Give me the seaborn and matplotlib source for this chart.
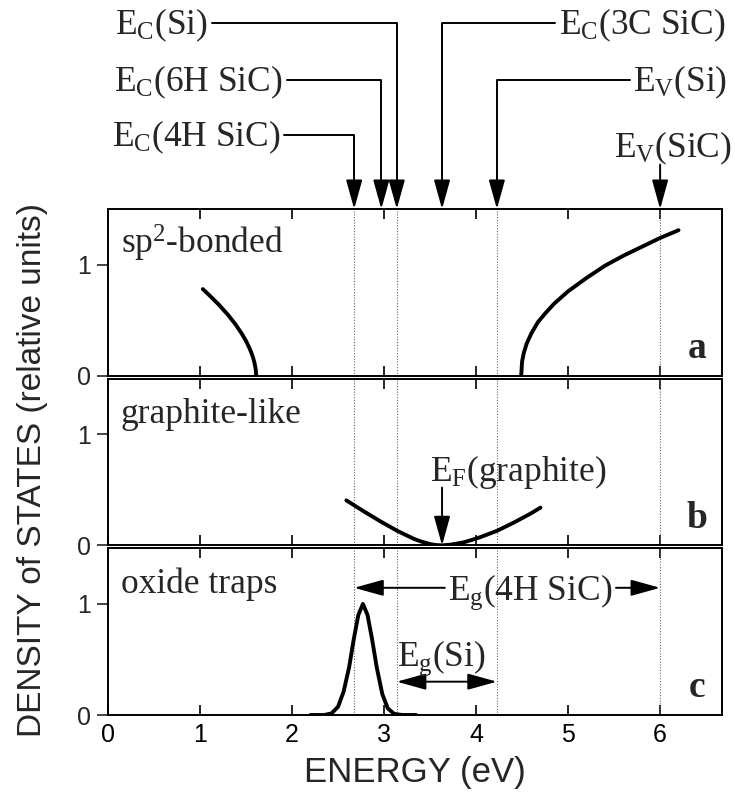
import matplotlib
matplotlib.use('Agg')
import matplotlib.pyplot as plt
import matplotlib.transforms as mtransforms
import seaborn as sns

# ---------------- data ----------------
# panel a : sp2-bonded density of states
sp2_left_x = [1.03, 1.10, 1.20, 1.30, 1.38, 1.45, 1.50, 1.54, 1.57, 1.59, 1.605, 1.61]
sp2_left_y = [0.78, 0.725, 0.643, 0.551, 0.468, 0.383, 0.312, 0.243, 0.179, 0.122, 0.057, 0.0]
sp2_right_x = [4.49, 4.50, 4.52, 4.55, 4.60, 4.67, 4.75, 4.85, 5.00, 5.20, 5.40, 5.60, 5.80, 6.00, 6.20]
sp2_right_y = [0.0, 0.13, 0.21, 0.29, 0.38, 0.48, 0.56, 0.65, 0.76, 0.88, 0.99, 1.08, 1.16, 1.24, 1.31]
# panel b : graphite-like
graph_x = [2.59, 2.78, 2.96, 3.14, 3.32, 3.40, 3.50, 3.56, 3.63, 3.72, 3.865, 3.95, 4.05, 4.23, 4.41, 4.59, 4.70]
graph_y = [0.405, 0.306, 0.216, 0.132, 0.060, 0.035, 0.012, 0.003, 0.0, 0.006, 0.027, 0.048, 0.075, 0.132, 0.205, 0.285, 0.34]
# panel c : oxide traps
trap_x = [2.20, 2.35, 2.43, 2.50, 2.56, 2.62, 2.67, 2.72, 2.77, 2.82, 2.87, 2.92, 2.98, 3.04, 3.11, 3.20, 3.35]
trap_y = [0.0, 0.0, 0.015, 0.075, 0.21, 0.43, 0.68, 0.90, 1.0, 0.90, 0.68, 0.43, 0.19, 0.06, 0.01, 0.0, 0.0]

# band edge energies (eV)
E_C_4H = 2.675
E_C_6H = 2.97
E_C_Si = 3.138
E_C_3C = 3.63
E_V_Si = 4.226
E_V_SiC = 6.0
E_F_graphite = 3.63
guide_levels = [E_C_4H, E_C_Si, E_V_Si, E_V_SiC]

x_ticks = [0, 1, 2, 3, 4, 5, 6]
y_ticks = [0, 1]
panel_names = ['sp$^2$-bonded', 'graphite-like', 'oxide traps']
panel_letters = ['a', 'b', 'c']

# ---------------- style ----------------
sns.set_theme(style='ticks')
plt.rcParams['font.family'] = ['Liberation Sans', 'DejaVu Sans']
plt.rcParams['mathtext.fontset'] = 'custom'
plt.rcParams['mathtext.rm'] = 'Liberation Serif'
plt.rcParams['mathtext.it'] = 'Liberation Serif:italic'
plt.rcParams['axes.linewidth'] = 1.4

SERIF = ['Liberation Serif', 'DejaVu Serif']
TXT = 25.5
AP = dict(arrowstyle='-|>,head_length=0.9,head_width=0.25', shrinkA=0, shrinkB=0,
          color='black', lw=1.4, mutation_scale=20)

fig = plt.figure(figsize=(7.35, 7.98), dpi=100)
gs = fig.add_gridspec(3, 1, left=0.147, right=0.982, bottom=0.104, top=0.738, hspace=0.018)
axes = [fig.add_subplot(gs[i]) for i in range(3)]

for i, ax in enumerate(axes):
    ax.set_xlim(0, 6.67)
    ax.set_ylim(0, 1.5)
    ax.set_xticks(x_ticks)
    ax.set_yticks(y_ticks)
    ax.set_yticklabels([str(v) for v in y_ticks])
    ax.tick_params(axis='x', direction='in', top=True, bottom=True, length=7, width=1.2,
                   labelsize=18, colors='black', labelbottom=(i == 2), pad=6)
    ax.tick_params(axis='y', direction='out', length=8, width=1.2, labelsize=18, pad=4)
    for s in ax.spines.values():
        s.set_visible(True)
        s.set_color('black')
    for lv in guide_levels:
        ax.axvline(lv, color='0.4', lw=0.8, ls=(0, (1, 1.5)), zorder=1)
    ax.text(0.14, 1.1, panel_names[i], fontsize=TXT, family=SERIF, ha='left', va='baseline')
    ax.text(6.40, 0.16, panel_letters[i], fontsize=27, family=SERIF, fontweight='bold',
            ha='center', va='baseline')
    ax.set_xlabel('')
    ax.set_ylabel('')

ax_a, ax_b, ax_c = axes

for xs_, ys_, ax_ in [(sp2_left_x, sp2_left_y, ax_a), (sp2_right_x, sp2_right_y, ax_a),
                      (graph_x, graph_y, ax_b), (trap_x, trap_y, ax_c)]:
    sns.lineplot(x=xs_, y=ys_, ax=ax_, color='black', linewidth=2.8,
                 sort=False, estimator=None)

# ---------- top level labels ----------
trans = mtransforms.blended_transform_factory(ax_a.transData, ax_a.transAxes)
left_labels = [('E$_\\mathrm{C}$(Si)', E_C_Si, 1.128, 2.115),
               ('E$_\\mathrm{C}$(6H SiC)', E_C_6H, 1.94, 1.774),
               ('E$_\\mathrm{C}$(4H SiC)', E_C_4H, 1.915, 1.444)]
right_labels = [('E$_\\mathrm{C}$(3C SiC)', E_C_3C, 4.86, 2.115),
                ('E$_\\mathrm{V}$(Si)', E_V_Si, 5.67, 1.774)]
for lab, lv, xs, yl in left_labels:
    ax_a.annotate('', xy=(lv, 1.0), xycoords=trans, xytext=(xs, yl), textcoords=trans,
                  arrowprops=dict(AP, connectionstyle='angle,angleA=0,angleB=90,rad=0'),
                  annotation_clip=False)
    ax_a.text(xs - 0.04, yl - 0.068, lab, transform=trans, fontsize=TXT, family=SERIF,
              ha='right', va='baseline', clip_on=False)
for lab, lv, xs, yl in right_labels:
    ax_a.annotate('', xy=(lv, 1.0), xycoords=trans, xytext=(xs, yl), textcoords=trans,
                  arrowprops=dict(AP, connectionstyle='angle,angleA=0,angleB=90,rad=0'),
                  annotation_clip=False)
    ax_a.text(xs + 0.04, yl - 0.068, lab, transform=trans, fontsize=TXT, family=SERIF,
              ha='left', va='baseline', clip_on=False)
ax_a.annotate('', xy=(E_V_SiC, 1.0), xycoords=trans, xytext=(E_V_SiC, 1.267), textcoords=trans,
              arrowprops=AP, annotation_clip=False)
ax_a.text(6.14, 1.31, 'E$_\\mathrm{V}$(SiC)', transform=trans, fontsize=TXT, family=SERIF,
          ha='center', va='baseline', clip_on=False)

# ---------- panel b Fermi level ----------
ax_b.annotate('', xy=(E_F_graphite, 0.0), xytext=(E_F_graphite, 0.52), arrowprops=AP)
ax_b.text(3.50, 0.58, 'E$_\\mathrm{F}$(graphite)', fontsize=TXT, family=SERIF,
          ha='left', va='baseline')

# ---------- panel c band gaps ----------
ax_c.annotate('', xy=(E_C_4H, 1.145), xytext=(3.66, 1.145), arrowprops=AP)
ax_c.annotate('', xy=(E_V_SiC, 1.145), xytext=(5.52, 1.145), arrowprops=AP)
ax_c.text(4.59, 1.04, 'E$_\\mathrm{g}$(4H SiC)', fontsize=TXT, family=SERIF,
          ha='center', va='baseline')
ax_c.annotate('', xy=(E_V_Si, 0.30), xytext=(E_C_Si, 0.30),
              arrowprops=dict(AP, arrowstyle='<|-|>,head_length=0.9,head_width=0.25'))
ax_c.text(3.62, 0.44, 'E$_\\mathrm{g}$(Si)', fontsize=TXT, family=SERIF,
          ha='center', va='baseline')

ax_c.set_xticklabels([str(v) for v in x_ticks])
ax_c.set_xlabel('ENERGY (eV)', fontsize=25, labelpad=6)
fig.text(0.044, 0.411, 'DENSITY of STATES (relative units)', rotation=90, fontsize=24,
         ha='center', va='center')

fig.savefig('out.png', dpi=100)
